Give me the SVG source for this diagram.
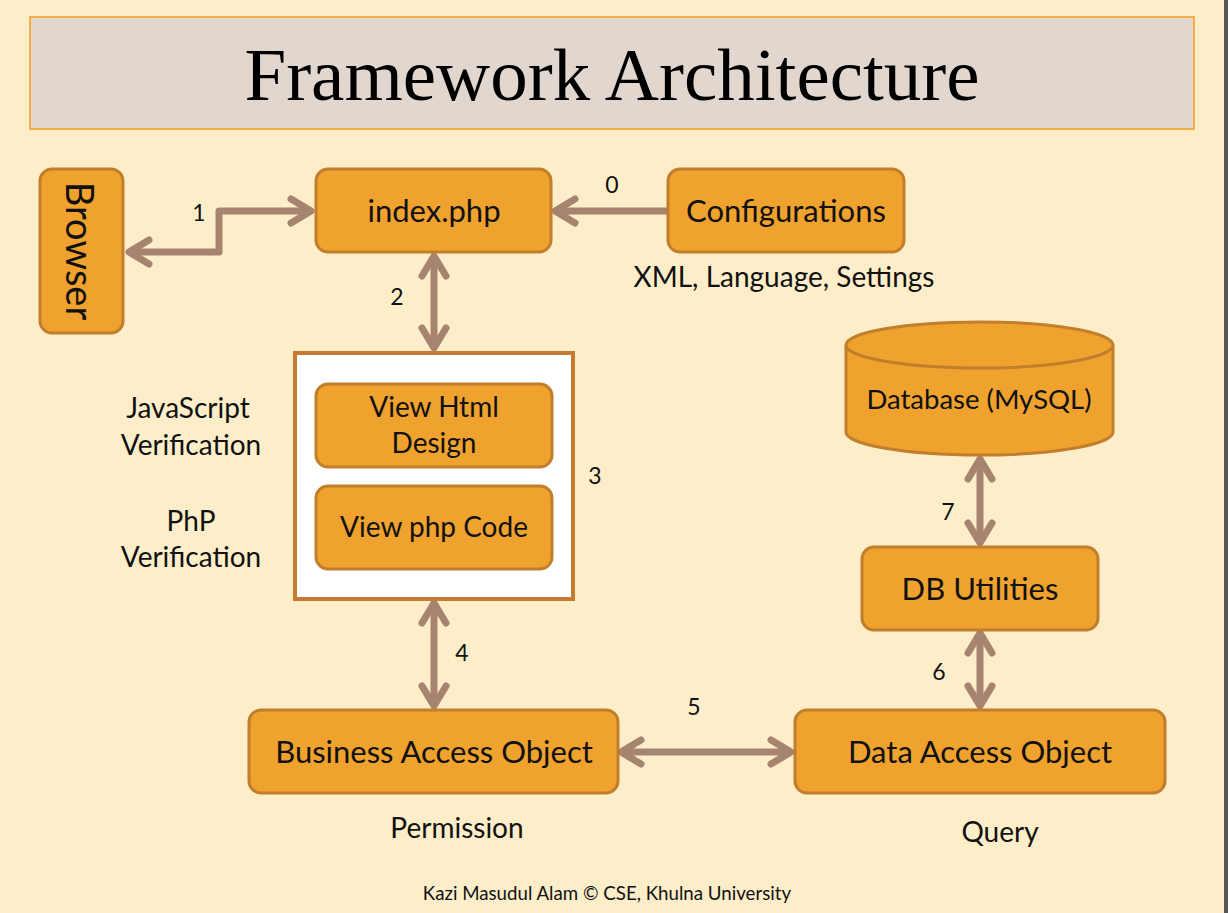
<svg xmlns="http://www.w3.org/2000/svg" width="1228" height="913" viewBox="0 0 1228 913">
<style>
.box{fill:#f0a22f;stroke:#c17e2b;stroke-width:3}
.t{font-family:Lato,"Open Sans",sans-serif;fill:#111;text-anchor:middle}
.lbl{font-size:31px}
.side{font-size:28px}
.num{font-size:23px}
.con{fill:none;stroke:#a68470;stroke-width:7;stroke-linejoin:round}
</style>
<defs>
<marker id="ah" markerUnits="userSpaceOnUse" viewBox="-30 -20 40 40" markerWidth="40" markerHeight="40" refX="0" refY="0" orient="auto-start-reverse" overflow="visible">
<path d="M-20,-12 L0,0 L-20,12" fill="none" stroke="#a68470" stroke-width="7" stroke-linecap="round" stroke-linejoin="round"/>
</marker>
</defs>
<rect x="0" y="0" width="1228" height="913" fill="#fdeec9"/>
<rect x="1224" y="0" width="4" height="913" fill="#555555"/>
<g id="title">
<rect x="30" y="17" width="1164" height="112" fill="#e2d7ce" stroke="#f5ad4a" stroke-width="2"/>
<text x="612" y="100" font-family="'Liberation Serif','Times New Roman',serif" font-size="75" fill="#000" text-anchor="middle">Framework Architecture</text>
</g>
<g id="connectors">
<path class="con" d="M129,252 H219 V211 H311" marker-start="url(#ah)" marker-end="url(#ah)"/>
<path class="con" d="M668,211 H555" marker-end="url(#ah)"/>
<path class="con" d="M434,256 V348" marker-start="url(#ah)" marker-end="url(#ah)"/>
<path class="con" d="M434,603 V706" marker-start="url(#ah)" marker-end="url(#ah)"/>
<path class="con" d="M621,752 H791" marker-start="url(#ah)" marker-end="url(#ah)"/>
<path class="con" d="M980,633 V706" marker-start="url(#ah)" marker-end="url(#ah)"/>
<path class="con" d="M980,459 V543" marker-start="url(#ah)" marker-end="url(#ah)"/>
<text class="t num" x="199" y="221">1</text>
<text class="t num" x="612" y="193">0</text>
<text class="t num" x="397" y="305">2</text>
<text class="t num" x="462" y="661">4</text>
<text class="t num" x="694" y="715">5</text>
<text class="t num" x="939" y="680">6</text>
<text class="t num" x="948" y="520">7</text>
</g>
<g id="browser">
<rect class="box" x="40" y="169" width="83" height="164" rx="12"/>
<text class="t" font-size="38" transform="translate(66,251) rotate(90)">Browser</text>
</g>
<g id="index">
<rect class="box" x="316" y="169" width="235" height="83" rx="12"/>
<text class="t lbl" x="434" y="222">index.php</text>
</g>
<g id="config">
<rect class="box" x="668" y="169" width="236" height="83" rx="12"/>
<text class="t lbl" x="786" y="222">Configurations</text>
<text class="t side" x="784" y="287">XML, Language, Settings</text>
</g>
<g id="view">
<rect x="295" y="353" width="278" height="246" fill="#ffffff" stroke="#c47a33" stroke-width="4"/>
<text class="t num" x="595" y="484">3</text>
</g>
<g id="viewhtml">
<rect class="box" x="316" y="384" width="236" height="83" rx="12"/>
<text class="t side" x="434" y="417">View Html</text>
<text class="t side" x="434" y="453">Design</text>
</g>
<g id="viewphp">
<rect class="box" x="316" y="486" width="236" height="83" rx="12"/>
<text class="t side" x="434" y="537">View php Code</text>
</g>
<g id="verif">
<text class="t side" x="188" y="418">JavaScript</text>
<text class="t side" x="191" y="455">Verification</text>
<text class="t side" x="191" y="531">PhP</text>
<text class="t side" x="191" y="567">Verification</text>
</g>
<g id="database">
<path class="box" d="M846,345 V432 A133,23 0 0 0 1113,432 V345 A133,23 0 0 0 846,345 Z"/>
<path d="M846,345 A133,23 0 0 0 1113,345" fill="none" stroke="#c17e2b" stroke-width="3"/>
<text class="t" font-size="27.5" x="979" y="409">Database (MySQL)</text>
</g>
<g id="dbutil">
<rect class="box" x="862" y="547" width="236" height="83" rx="12"/>
<text class="t lbl" x="980" y="600">DB Utilities</text>
</g>
<g id="bao">
<rect class="box" x="249" y="710" width="369" height="83" rx="12"/>
<text class="t lbl" x="434" y="763">Business Access Object</text>
<text class="t side" x="457" y="838">Permission</text>
</g>
<g id="dao">
<rect class="box" x="795" y="710" width="370" height="83" rx="12"/>
<text class="t lbl" x="980" y="763">Data Access Object</text>
<text class="t side" x="1000" y="842">Query</text>
</g>
<g id="footer">
<text class="t" font-size="18.7" x="607" y="900">Kazi Masudul Alam © CSE, Khulna University</text>
</g>
</svg>
